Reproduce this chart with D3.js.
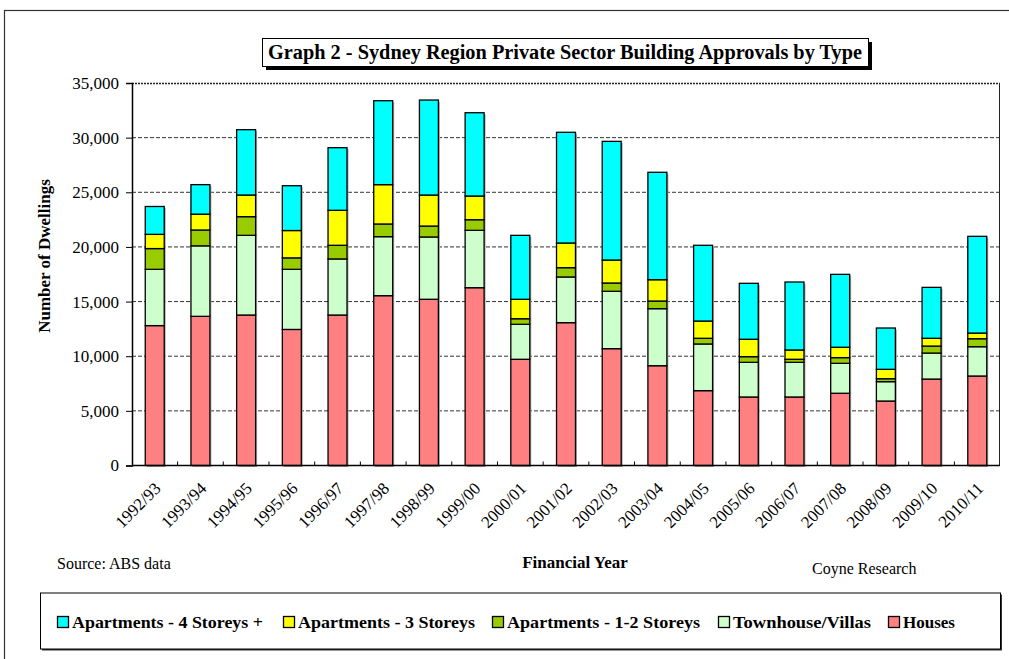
<!DOCTYPE html>
<html>
<head>
<meta charset="utf-8">
<script src="https://cdn.jsdelivr.net/npm/d3@7"></script>
<style>
  body { margin: 0; background: #fff; }
  text { font-family: "Liberation Serif", "Times New Roman", serif; fill: #000; }
</style>
</head>
<body>
<div id="chart"></div>
<script>
// financial years on the x axis
var years = ["1992/93", "1993/94", "1994/95", "1995/96", "1996/97", "1997/98", "1998/99",
  "1999/00", "2000/01", "2001/02", "2002/03", "2003/04", "2004/05", "2005/06",
  "2006/07", "2007/08", "2008/09", "2009/10", "2010/11"];

// dwellings approved, by type
var houses    = [12800, 13650, 13770, 12450, 13770, 15540, 15210, 16270, 9720, 13070, 10690, 9130, 6850, 6270, 6270, 6610, 5900, 7910, 8190];
var townhouse = [5150, 6450, 7290, 5500, 5130, 5400, 5700, 5250, 3200, 4180, 5250, 5220, 4270, 3170, 3170, 2740, 1770, 2380, 2680];
var apt12     = [1900, 1450, 1710, 1050, 1250, 1160, 1000, 970, 510, 850, 760, 700, 520, 520, 280, 520, 270, 640, 730];
var apt3      = [1300, 1450, 1980, 2500, 3200, 3600, 2840, 2170, 1780, 2260, 2100, 1950, 1580, 1590, 850, 950, 860, 710, 520];
var apt4      = [2550, 2700, 5980, 4100, 5730, 7680, 8690, 7620, 5850, 10130, 10860, 9830, 6930, 5120, 6220, 6670, 3780, 4660, 8850];

var seriesKeys   = ["houses", "townhouse", "apt12", "apt3", "apt4"];
var seriesLabels = ["Houses", "Townhouse/Villas", "Apartments - 1-2 Storeys", "Apartments - 3 Storeys", "Apartments - 4 Storeys +"];
var seriesColors = ["#FF8080", "#CCFFCC", "#99CC00", "#FFFF00", "#00FFFF"];
var yTicks = [0, 5000, 10000, 15000, 20000, 25000, 30000, 35000];

var W = 1009, H = 659;
var margin = {top: 83, left: 132, right: 9, bottom: 193.5};
var width = W - margin.left - margin.right,
    height = H - margin.top - margin.bottom;

var svg = d3.select("#chart").append("svg")
  .attr("width", W).attr("height", H);

// outer frame (runs off the right and bottom edge)
svg.append("rect")
  .attr("x", 4.5).attr("y", 10.5).attr("width", 1020).attr("height", 670)
  .attr("fill", "none").attr("stroke", "#333").attr("stroke-width", 1.2);

// title box with drop shadow
svg.append("rect").attr("x", 266).attr("y", 42).attr("width", 606).attr("height", 28).attr("fill", "#000");
svg.append("rect").attr("x", 262.5).attr("y", 38.5).attr("width", 606).attr("height", 28)
  .attr("fill", "#fff").attr("stroke", "#000").attr("stroke-width", 1);
svg.append("text")
  .attr("x", 565).attr("y", 59)
  .attr("text-anchor", "middle")
  .style("font-size", "20px").style("font-weight", "bold")
  .attr("textLength", 594).attr("lengthAdjust", "spacingAndGlyphs")
  .text("Graph 2 - Sydney Region Private Sector Building Approvals by Type");

var g = svg.append("g").attr("transform", "translate(" + margin.left + "," + margin.top + ")");

var x = d3.scaleBand().domain(years).range([0, width]).paddingInner(0.585).paddingOuter(0.29);
var y = d3.scaleLinear().domain([0, 35000]).range([height, 0]);

// gridlines
g.selectAll(".grid").data(yTicks.slice(1, -1)).enter().append("line")
  .attr("x1", 0).attr("x2", width)
  .attr("y1", function(d) { return y(d); }).attr("y2", function(d) { return y(d); })
  .attr("stroke", "#333").attr("stroke-width", 1).attr("stroke-dasharray", "4,2");

// top and right frame of plot
g.append("line").attr("x1", 0).attr("x2", width).attr("y1", 0.5).attr("y2", 0.5)
  .attr("stroke", "#222").attr("stroke-width", 1.5).attr("stroke-dasharray", "2,1");
g.append("line").attr("x1", width - 0.5).attr("x2", width - 0.5).attr("y1", 0).attr("y2", height)
  .attr("stroke", "#222").attr("stroke-width", 1);

// stacked data
var rows = years.map(function(yr, i) {
  return {year: yr, houses: houses[i], townhouse: townhouse[i], apt12: apt12[i], apt3: apt3[i], apt4: apt4[i]};
});
var stacked = d3.stack().keys(seriesKeys)(rows);

function total(d) { return d.houses + d.townhouse + d.apt12 + d.apt3 + d.apt4; }

// faint shadow behind each bar
g.selectAll(".shadow").data(rows).enter().append("rect")
  .attr("x", function(d) { return x(d.year) + 1.5; })
  .attr("y", function(d) { return y(total(d)) + 1.5; })
  .attr("width", x.bandwidth())
  .attr("height", function(d) { return height - y(total(d)); })
  .attr("fill", "#aaa");

var layers = g.selectAll(".layer").data(stacked).enter().append("g")
  .attr("fill", function(d, i) { return seriesColors[i]; });

layers.selectAll("rect").data(function(d) { return d; }).enter().append("rect")
  .attr("x", function(d) { return x(d.data.year); })
  .attr("y", function(d) { return y(d[1]); })
  .attr("width", x.bandwidth())
  .attr("height", function(d) { return y(d[0]) - y(d[1]); })
  .attr("stroke", "#000").attr("stroke-width", 1.3);

// y axis
var yAxis = g.append("g")
  .call(d3.axisLeft(y).tickValues(yTicks).tickSize(6).tickFormat(d3.format(",")));
yAxis.select(".domain").attr("stroke", "#000").attr("stroke-width", 1.5);
yAxis.selectAll("line").attr("stroke", "#000");
yAxis.selectAll("text")
  .style("font-size", "17px").style("font-family", "Liberation Serif, serif")
  .attr("x", -13);

// x axis with ticks between bars, pointing up
var xAxis = g.append("g").attr("transform", "translate(0," + height + ")");
xAxis.append("line").attr("x1", 0).attr("x2", width).attr("y1", 0).attr("y2", 0)
  .attr("stroke", "#000").attr("stroke-width", 1.5);
xAxis.selectAll(".tk").data(years.slice(1)).enter().append("line")
  .attr("x1", function(d) { return x(d) - (x.step() - x.bandwidth()) / 2; })
  .attr("x2", function(d) { return x(d) - (x.step() - x.bandwidth()) / 2; })
  .attr("y1", 0).attr("y2", -4)
  .attr("stroke", "#000");
xAxis.selectAll(".lbl").data(years).enter().append("text")
  .attr("transform", function(d) {
    return "translate(" + (x(d) + x.bandwidth() / 2 + 7) + ",24) rotate(-45)";
  })
  .attr("text-anchor", "end")
  .style("font-size", "17px")
  .text(function(d) { return d; });

// axis titles
svg.append("text")
  .attr("transform", "translate(50," + 256 + ") rotate(-90)")
  .attr("text-anchor", "middle")
  .style("font-size", "17px").style("font-weight", "bold")
  .text("Number of Dwellings");

svg.append("text").attr("x", 575).attr("y", 568).attr("text-anchor", "middle")
  .style("font-size", "17px").style("font-weight", "bold").text("Financial Year");
svg.append("text").attr("x", 57).attr("y", 569).style("font-size", "16px").text("Source: ABS data");
svg.append("text").attr("x", 812).attr("y", 574).style("font-size", "16px").text("Coyne Research");

// legend
svg.append("rect").attr("x", 42).attr("y", 594.5).attr("width", 960).attr("height", 56).attr("fill", "#333");
svg.append("rect").attr("x", 40.5).attr("y", 593).attr("width", 960).attr("height", 56)
  .attr("fill", "#fff").attr("stroke", "#000").attr("stroke-width", 1);

var legendX = [57, 283, 492, 718, 888];
var legendW = [191, 177, 193, 138, 52];
var legendOrder = [4, 3, 2, 1, 0];
var legend = svg.selectAll(".leg").data(legendOrder).enter().append("g")
  .attr("transform", function(d, i) { return "translate(" + legendX[i] + ",622)"; });
legend.append("rect")
  .attr("x", 0.5).attr("y", -5.5).attr("width", 11).attr("height", 11)
  .attr("fill", function(d) { return seriesColors[d]; })
  .attr("stroke", "#000").attr("stroke-width", 1.3);
legend.append("text")
  .attr("x", 15).attr("y", 5.5)
  .style("font-size", "17px").style("font-weight", "bold")
  .attr("textLength", function(d, i) { return legendW[i]; })
  .attr("lengthAdjust", "spacingAndGlyphs")
  .text(function(d) { return seriesLabels[d]; });
</script>
</body>
</html>
